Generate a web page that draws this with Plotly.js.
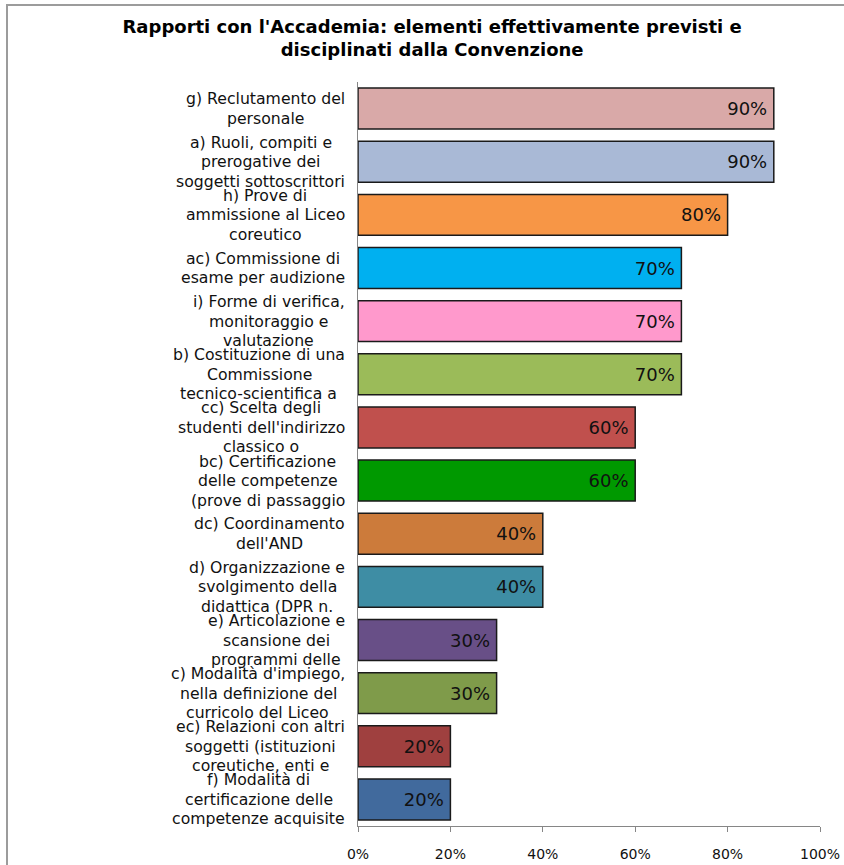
<!DOCTYPE html>
<html>
<head>
<meta charset="utf-8">
<script src="https://cdn.plot.ly/plotly-3.0.1.min.js"></script>
<style>
html,body{margin:0;padding:0;background:#fff;}
#frame{position:absolute;left:6px;top:4px;width:900px;height:900px;border-left:2px solid #9c9c9c;border-top:2px solid #9c9c9c;}
#chart{position:absolute;left:0;top:0;width:844px;height:865px;}
</style>
</head>
<body>
<div id="frame"></div>
<div id="chart"></div>
<script>
const categories = [
  "g) Reclutamento del<br>personale",
  "a) Ruoli, compiti e<br>prerogative dei<br>soggetti sottoscrittori",
  "h) Prove di<br>ammissione al Liceo<br>coreutico",
  "ac) Commissione di<br>esame per audizione",
  "i) Forme di verifica,<br>monitoraggio e<br>valutazione",
  "b) Costituzione di una<br>Commissione<br>tecnico-scientifica a",
  "cc) Scelta degli<br>studenti dell'indirizzo<br>classico o",
  "bc) Certificazione<br>delle competenze<br>(prove di passaggio",
  "dc) Coordinamento<br>dell'AND",
  "d) Organizzazione e<br>svolgimento della<br>didattica (DPR n.",
  "e) Articolazione e<br>scansione dei<br>programmi delle",
  "c) Modalità d'impiego,<br>nella definizione del<br>curricolo del Liceo",
  "ec) Relazioni con altri<br>soggetti (istituzioni<br>coreutiche, enti e",
  "f) Modalità di<br>certificazione delle<br>competenze acquisite"
];
const values = [90, 90, 80, 70, 70, 70, 60, 60, 40, 40, 30, 30, 20, 20];
const barColors = [
  "#D9A9A8", "#A9B9D6", "#F79646", "#00B0F0", "#FF99CC", "#9BBB59", "#C0504D",
  "#009900", "#CC7B3B", "#3E8DA4", "#684F87", "#7F9B4A", "#9F403F", "#416A9D"
];
const xTickVals = [0, 20, 40, 60, 80, 100];
const xTickText = ["0%", "20%", "40%", "60%", "80%", "100%"];
const titleText = "Rapporti con l'Accademia: elementi effettivamente previsti e<br>disciplinati dalla Convenzione";

const ids = categories.map((c, i) => "cat" + i);

const trace = {
  type: "bar",
  orientation: "h",
  y: ids,
  x: values,
  width: 0.77,
  marker: { color: barColors, line: { color: "#1a1a1a", width: 1.5 } },
  text: values.map(v => v + "%\u2009"),
  textposition: "inside",
  insidetextanchor: "end",
  textangle: 0,
  constraintext: "none",
  textfont: { family: "DejaVu Sans", size: 18, color: "#111" },
  hoverinfo: "none"
};

// Category labels: one annotation per line, centred on each other, right edge near the axis
const LINE_H = 19.5;
const annotations = [];
categories.forEach((c, i) => {
  const lines = c.split("<br>");
  // pad lines so centring matches widest line: use a single block width via align center
  lines.forEach((ln, k) => {
    annotations.push({
      xref: "paper", yref: "y",
      x: 0, y: ids[i],
      xanchor: "right", yanchor: "middle",
      xshift: -11,
      yshift: -(k - (lines.length - 1) / 2) * LINE_H,
      align: "center",
      showarrow: false,
      text: ln,
      font: { family: "DejaVu Sans", size: 15.7, color: "#111" },
      _block: i
    });
  });
});

const layout = {
  width: 844, height: 865,
  paper_bgcolor: "rgba(0,0,0,0)",
  plot_bgcolor: "rgba(0,0,0,0)",
  margin: { l: 358, r: 24, t: 82, b: 39 },
  showlegend: false,
  title: {
    text: titleText,
    x: 0.512, xanchor: "center",
    y: 0.962, yanchor: "top",
    font: { family: "DejaVu Sans", size: 18, color: "#000", weight: "bold" }
  },
  xaxis: {
    range: [0, 100],
    tickvals: xTickVals,
    ticktext: xTickText,
    ticks: "outside", ticklen: 5, tickcolor: "#868686", tickwidth: 1,
    ticklabelstandoff: 10,
    showline: true, linecolor: "#868686", linewidth: 1,
    showgrid: false, zeroline: false,
    tickfont: { family: "DejaVu Sans", size: 14, color: "#111" },
    fixedrange: true
  },
  yaxis: {
    type: "category",
    range: [13.5, -0.5],
    autorange: false,
    showticklabels: false,
    showline: true, linecolor: "#868686", linewidth: 1,
    showgrid: false, zeroline: false, ticks: "",
    fixedrange: true
  },
  annotations: []
};

Plotly.newPlot("chart", [trace], layout, { staticPlot: true, displayModeBar: false }).then(gd => {
  // measure each line, then shift so lines of one label are centred on the widest line
  const tmp = document.createElement("canvas").getContext("2d");
  tmp.font = "15.7px 'DejaVu Sans'";
  const widths = annotations.map(a => tmp.measureText(a.text).width);
  const maxW = {};
  annotations.forEach((a, j) => { maxW[a._block] = Math.max(maxW[a._block] || 0, widths[j]); });
  const finalAnn = annotations.map((a, j) => {
    const b = Object.assign({}, a);
    b.xshift = a.xshift - (maxW[a._block] - widths[j]) / 2;
    delete b._block;
    return b;
  });
  Plotly.relayout(gd, { annotations: finalAnn });
});
</script>
</body>
</html>
